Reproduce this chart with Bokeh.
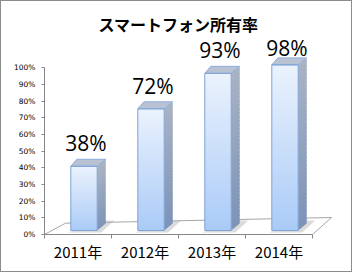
import numpy as np
from bokeh.plotting import figure
from bokeh.models import Range1d, FixedTicker, NumeralTickFormatter
from bokeh.core.properties import value
from bokeh.embed import file_html
from bokeh.resources import INLINE

# ---- data ----
years = ["2011年", "2012年", "2013年", "2014年"]
shares = [0.38, 0.72, 0.93, 0.98]
share_labels = ["38%", "72%", "93%", "98%"]
y_ticks = [0.0, 0.1, 0.2, 0.3, 0.4, 0.5, 0.6, 0.7, 0.8, 0.9, 1.0]
title_text = "スマートフォン所有率"

# ---- layout (canvas px) ----
W, H = 352, 272
FL, FR, FT, FB = 43, 345, 33, 233
PX_X = 67.0     # px per category
PX_Y = 166.7    # px per 100 %

def hx(px):
    return px / PX_X

def vy(px):
    return px / PX_Y

x0 = -0.5
x1 = x0 + hx(FR - FL)
y1 = vy(FB - FT)

p = figure(width=W, height=H, x_range=Range1d(x0, x1), y_range=Range1d(0, y1),
           output_backend="svg", toolbar_location=None,
           min_border_left=FL, min_border_right=W - FR,
           min_border_top=FT, min_border_bottom=H - FB,
           background_fill_color="white", border_fill_color="white")
p.styles = {"border": "1px solid #8c8c8c"}
p.outline_line_color = None
p.xgrid.visible = False
p.ygrid.visible = False

p.title.text = title_text
p.title.align = "left"
p.title.offset = 54
p.title.text_font = "Noto Sans CJK JP"
p.title.text_font_size = "16px"
p.title.text_font_style = "bold"
p.title.text_color = "#000000"
p.title.standoff = -3

# y axis
ya = p.yaxis[0]
ya.ticker = FixedTicker(ticks=y_ticks, minor_ticks=[])
ya.formatter = NumeralTickFormatter(format="0%")
ya.bounds = (0, 1)
ya.axis_line_color = "#868686"
ya.major_tick_line_color = "#868686"
ya.major_tick_out = 3
ya.major_tick_in = 0
ya.minor_tick_out = 0
ya.minor_tick_in = 0
ya.major_label_standoff = 6
ya.major_label_text_font = "DejaVu Sans"
ya.major_label_text_font_size = "7.5px"
ya.major_label_text_color = "#000000"

# x axis
xa = p.xaxis[0]
bounds_ticks = [i - 0.5 for i in range(len(years) + 1)]
xa.ticker = FixedTicker(ticks=list(range(len(years))), minor_ticks=bounds_ticks)
xa.major_label_overrides = {i: y for i, y in enumerate(years)}
xa.bounds = (-0.5, len(years) - 0.5)
xa.axis_line_color = "#868686"
xa.major_tick_out = 0
xa.major_tick_in = 0
xa.minor_tick_out = 4
xa.minor_tick_in = 0
xa.minor_tick_line_color = "#868686"
xa.major_label_standoff = 2
xa.major_label_text_font = "Noto Sans CJK JP"
xa.major_label_text_font_size = "15px"
xa.major_label_text_color = "#000000"

# ---- 3D projection constants ----
BASE = vy(4)
K = 169.0 / PX_Y
FRONT_SHIFT = hx(6)
HALF_W = hx(13.2)
DXL, DXR, DY = hx(6), hx(8.5), vy(7)
LABEL_GAP = vy(23)
LABEL_CAP = vy(FB - 46.5)

# floor
n = len(years)
floor_x = [-0.5, n - 0.5, n - 0.5 + hx(19), -0.5 + hx(21)]
floor_y = [0, 0, vy(17), vy(11.3)]
p.patch(floor_x, floor_y, fill_color="white", line_color="#a6a6a6", line_width=1)

def mix(c1, c2, t):
    a = np.array([int(c1[i:i + 2], 16) for i in (1, 3, 5)], float)
    b = np.array([int(c2[i:i + 2], 16) for i in (1, 3, 5)], float)
    c = a + (b - a) * t
    return "#%02x%02x%02x" % tuple(int(round(v)) for v in c)

FRONT_BOT, FRONT_TOP = "#aacbf7", "#ebf2fd"
SIDE_BOT, SIDE_TOP = "#7d93b6", "#a9b3c4"
N = 40

fl, fr, fb, ft, fc = [], [], [], [], []
sxs, sys_, sc = [], [], []
txs, tys = [], []
shx, shy = [], []
for i, v in enumerate(shares):
    cx = i + FRONT_SHIFT
    xl, xr = cx - HALF_W, cx + HALF_W
    bot = BASE
    top = BASE + v * K
    step = (top - bot) / N
    for j in range(N):
        ya0 = bot + step * j
        ya1 = bot + step * (j + 1) + (step * 0.4 if j < N - 1 else 0)
        t = (j + 0.5) / N
        fl.append(xl); fr.append(xr); fb.append(ya0); ft.append(ya1)
        fc.append(mix(FRONT_BOT, FRONT_TOP, t))
        sxs.append([xr, xr + DXR, xr + DXR, xr])
        sys_.append([ya0, ya0 + DY, ya1 + DY, ya1])
        sc.append(mix(SIDE_BOT, SIDE_TOP, t))
    txs.append([xl, xl + DXL, xr + DXR, xr])
    tys.append([top, top + DY, top + DY, top])
    shx.append([xl - hx(3), xr + hx(4), xr + hx(17), xr + hx(9)])
    shy.append([bot - vy(2), bot - vy(2), bot + vy(10), bot + vy(10)])

p.patches(shx, shy, fill_color="#b0b0b0", fill_alpha=0.45, line_color=None)
p.patches(sxs, sys_, fill_color=sc, line_color=None)
p.quad(left=fl, right=fr, bottom=fb, top=ft, fill_color=fc, line_color=None)
p.patches(txs, tys, fill_color="#b8c2d3", line_color="#8eaedc", line_width=1)

# front outlines
cxs = [i + FRONT_SHIFT for i in range(n)]
p.quad(left=[c - HALF_W for c in cxs], right=[c + HALF_W for c in cxs],
       bottom=[BASE] * n, top=[BASE + v * K for v in shares],
       fill_color=None, line_color="#7ea3d6", line_width=1)

# data labels (kept inside the plot area, as the original does)
p.text(x=[c + hx(2) for c in cxs],
       y=[min(BASE + v * K + LABEL_GAP, LABEL_CAP) for v in shares],
       text=share_labels, text_font=value("Open Sans"), text_font_size="21px",
       text_align="center", text_baseline="middle", text_color="#000000")

open("out.html", "w").write(file_html(p, INLINE))
